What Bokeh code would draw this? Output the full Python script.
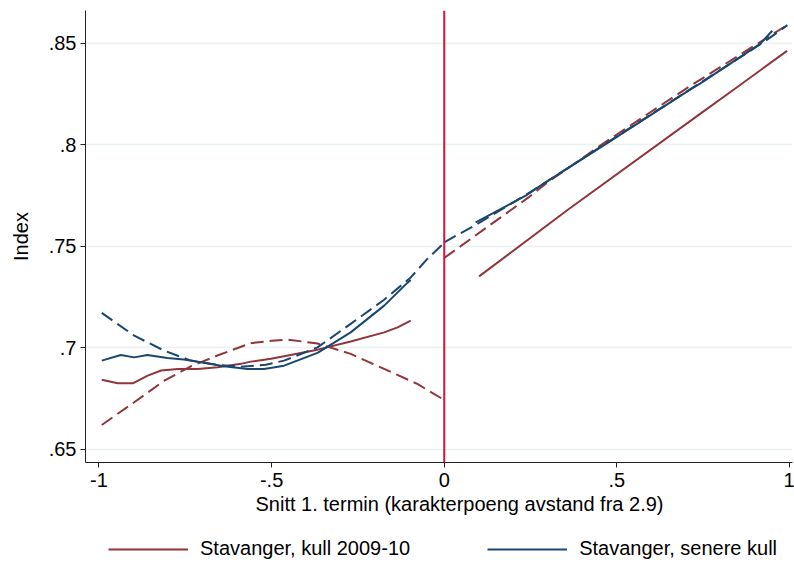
from bokeh.plotting import figure
from bokeh.layouts import column
from bokeh.models import Span, Legend, LegendItem, FixedTicker, Range1d, Title
from bokeh.embed import file_html
from bokeh.resources import INLINE

# Axis ticks and labels
x_ticks = [-1.0, -0.5, 0.0, 0.5, 1.0]
x_tick_labels = ["-1", "-.5", "0", ".5", "1"]
y_ticks = [0.65, 0.7, 0.75, 0.8, 0.85]
y_tick_labels = [".65", ".7", ".75", ".8", ".85"]
x_title = "Snitt 1. termin (karakterpoeng avstand fra 2.9)"
y_title = "Index"

# Stavanger, kull 2009-10 -- local fit, below and above the cutoff
kull_low_x = [-0.992, -0.946, -0.902, -0.859, -0.820, -0.771, -0.714, -0.656, -0.589,
              -0.560, -0.502, -0.464, -0.367, -0.271, -0.174, -0.135, -0.097]
kull_low_y = [0.6842, 0.6824, 0.6824, 0.6862, 0.6887, 0.6895, 0.6895, 0.6903, 0.6920,
              0.6931, 0.6945, 0.6957, 0.6990, 0.7030, 0.7075, 0.7100, 0.7133]
kull_high_x = [0.101, 0.357, 0.742, 0.839, 0.993]
kull_high_y = [0.7351, 0.7678, 0.8153, 0.8272, 0.8462]

# Stavanger, kull 2009-10 -- polynomial fit
kull_fit_low_x = [-0.992, -0.898, -0.811, -0.734, -0.657, -0.560, -0.500, -0.454,
                  -0.367, -0.271, -0.174, -0.078, -0.005]
kull_fit_low_y = [0.6619, 0.6731, 0.6837, 0.6908, 0.6961, 0.7022, 0.7034, 0.7040,
                  0.7020, 0.6969, 0.6895, 0.6821, 0.6747]
kull_fit_high_x = [0.0, 0.244, 0.299, 0.472, 0.704, 0.993]
kull_fit_high_y = [0.7442, 0.7740, 0.7814, 0.8019, 0.8280, 0.8589]

# Stavanger, senere kull -- local fit
later_low_x = [-0.992, -0.937, -0.898, -0.860, -0.802, -0.754, -0.705, -0.638, -0.570,
               -0.522, -0.464, -0.367, -0.271, -0.174, -0.107, -0.097]
later_low_y = [0.6936, 0.6964, 0.6952, 0.6964, 0.6949, 0.6941, 0.6928, 0.6908, 0.6895,
               0.6895, 0.6911, 0.6974, 0.7075, 0.7207, 0.7319, 0.7333]
later_high_x = [0.091, 0.236, 0.279, 0.472, 0.713, 0.742, 0.916, 0.950]
later_high_y = [0.7617, 0.7749, 0.7798, 0.8008, 0.8272, 0.8302, 0.8498, 0.8561]

# Stavanger, senere kull -- polynomial fit
later_fit_low_x = [-0.992, -0.898, -0.811, -0.734, -0.657, -0.589, -0.517, -0.464,
                   -0.367, -0.271, -0.174, -0.097, -0.049, 0.0]
later_fit_low_y = [0.7171, 0.7059, 0.6985, 0.6936, 0.6915, 0.6906, 0.6916, 0.6936,
                   0.7001, 0.7117, 0.7236, 0.7346, 0.7437, 0.7516]
later_fit_high_x = [0.0, 0.087, 0.236, 0.472, 0.742, 0.926, 0.994]
later_fit_high_y = [0.7519, 0.7601, 0.7752, 0.8010, 0.8305, 0.8506, 0.8589]

series_labels = ["Stavanger, kull 2009-10", "Stavanger, senere kull"]

MAROON = "#90353b"
NAVY = "#1a476f"
CUTOFF = "#d2143a"
FONT = "Liberation Sans"
LW = 2
DASH = "13 6"

p = figure(width=794, height=524, output_backend="svg", toolbar_location=None,
           x_range=Range1d(-1.0391, 1.0087), y_range=Range1d(0.6434, 0.8661),
           min_border_left=85, min_border_right=2, min_border_top=10,
           min_border_bottom=62)
p.outline_line_color = None
p.background_fill_color = "white"
p.border_fill_color = "white"

# Horizontal grid only
p.xgrid.visible = False
p.ygrid.grid_line_color = "#eaf1f3"
p.ygrid.grid_line_width = 1.5

for ax in (p.xaxis[0], p.yaxis[0]):
    ax.axis_line_color = "#222222"
    ax.axis_line_width = 1
    ax.major_tick_line_color = "#222222"
    ax.major_tick_out = 5
    ax.major_tick_in = 0
    ax.minor_tick_line_color = None
    ax.major_label_text_font = FONT
    ax.major_label_text_font_size = "20px"
    ax.major_label_text_color = "black"
    ax.axis_label_text_font = FONT
    ax.axis_label_text_font_size = "20px"
    ax.axis_label_text_font_style = "normal"
    ax.axis_label_text_color = "black"

p.xaxis.ticker = FixedTicker(ticks=x_ticks)
p.xaxis.major_label_overrides = dict(zip(x_ticks, x_tick_labels))
p.xaxis.major_label_standoff = 5

p.yaxis.ticker = FixedTicker(ticks=y_ticks)
p.yaxis.major_label_overrides = dict(zip(y_ticks, y_tick_labels))
p.yaxis.axis_label = y_title
p.yaxis.major_label_standoff = 4
p.yaxis.axis_label_standoff = 14

# x-axis title set a little right of the frame centre
p.add_layout(Title(text=x_title, align="left", offset=170, vertical_align="top",
                   standoff=6, text_font=FONT, text_font_size="20px",
                   text_font_style="normal", text_color="black"), "below")

# Cutoff line
p.add_layout(Span(location=0, dimension="height", line_color=CUTOFF, line_width=2))

p.line(kull_low_x, kull_low_y, line_color=MAROON, line_width=LW)
p.line(kull_high_x, kull_high_y, line_color=MAROON, line_width=LW)
p.line(kull_fit_low_x, kull_fit_low_y, line_color=MAROON, line_width=LW, line_dash=DASH)
p.line(kull_fit_high_x, kull_fit_high_y, line_color=MAROON, line_width=LW, line_dash=DASH)

p.line(later_low_x, later_low_y, line_color=NAVY, line_width=LW)
p.line(later_high_x, later_high_y, line_color=NAVY, line_width=LW)
p.line(later_fit_low_x, later_fit_low_y, line_color=NAVY, line_width=LW, line_dash=DASH)
p.line(later_fit_high_x, later_fit_high_y, line_color=NAVY, line_width=LW, line_dash=DASH)

# Legend strip under the chart; its key lines hold no visible points,
# they only carry the line style of each local fit
key = figure(width=794, height=39, output_backend="svg", toolbar_location=None,
             x_axis_type=None, y_axis_type=None, min_border=0,
             x_range=Range1d(0, 1), y_range=Range1d(0, 1))
key.outline_line_color = None
key.grid.visible = False
key.border_fill_color = "white"
nan = float("nan")
k_kull = key.line([nan], [nan], line_color=MAROON, line_width=LW)
k_later = key.line([nan], [nan], line_color=NAVY, line_width=LW)

legend = Legend(
    items=[LegendItem(label=series_labels[0], renderers=[k_kull]),
           LegendItem(label=series_labels[1], renderers=[k_later])],
    location=(23, 3), orientation="horizontal",
    label_text_font=FONT, label_text_font_size="20px", label_text_color="black",
    glyph_width=80, glyph_height=20, label_height=20, label_standoff=12,
    spacing=77, padding=0, margin=0,
    border_line_color=None, background_fill_alpha=0,
)
key.add_layout(legend)

layout = column(p, key, spacing=0)
open("out.html", "w").write(file_html(layout, INLINE))
